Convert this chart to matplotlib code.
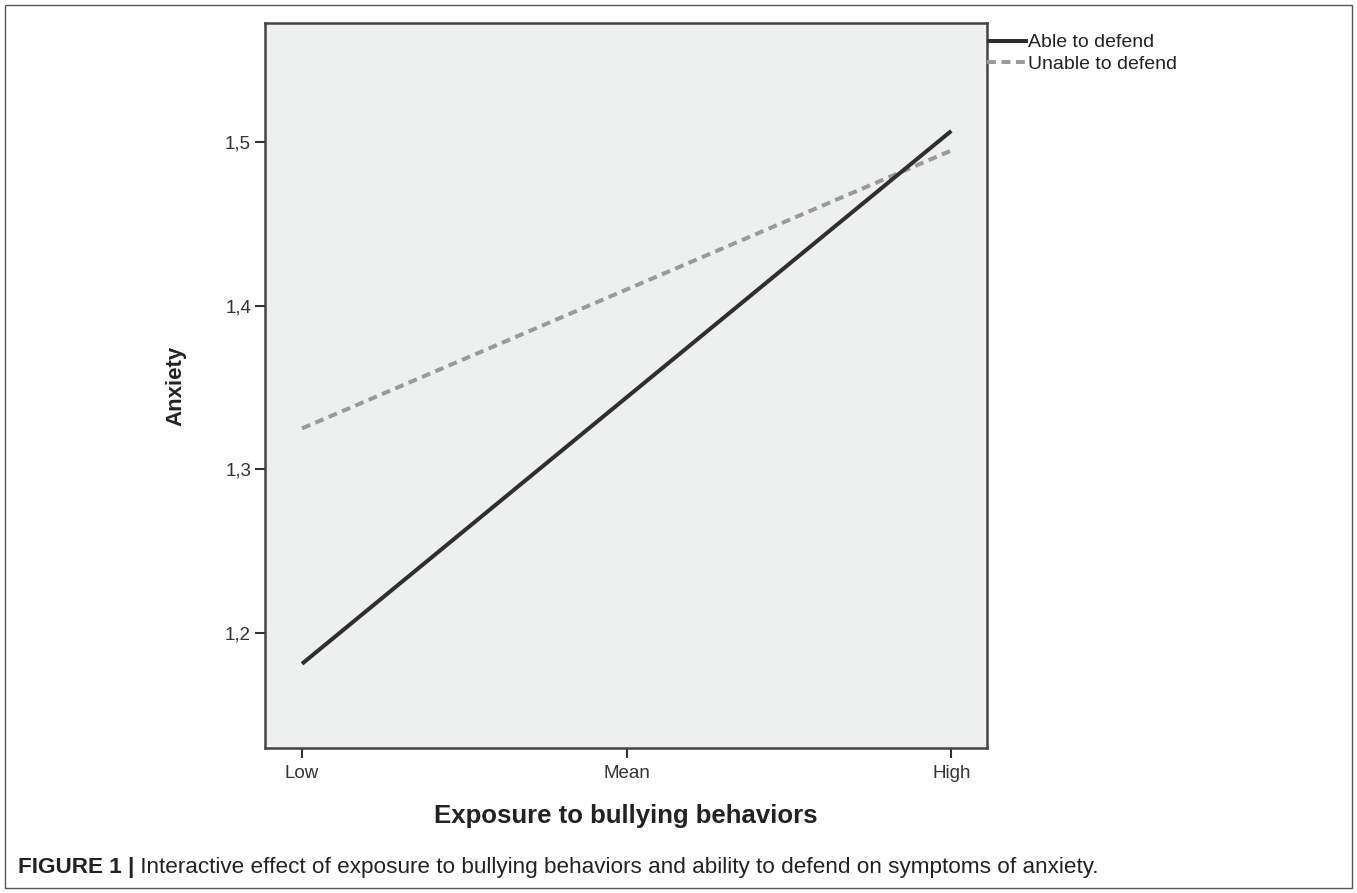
import matplotlib
matplotlib.use("Agg")
import matplotlib.pyplot as plt
from matplotlib.patches import Rectangle
from matplotlib.offsetbox import TextArea, HPacker, AnchoredOffsetbox

categories = ["Low", "Mean", "High"]
able = [1.181, 1.344, 1.507]
unable = [1.325, 1.410, 1.495]
series_names = ["Able to defend", "Unable to defend"]
y_ticks = [1.2, 1.3, 1.4, 1.5]
y_tick_labels = ["1,2", "1,3", "1,4", "1,5"]

plt.rcParams['font.family'] = ['Liberation Sans', 'DejaVu Sans']

W, H = 1357, 893
fig = plt.figure(figsize=(W / 100, H / 100), dpi=100)
ax = fig.add_axes([265 / W, 1 - 748 / H, (987 - 265) / W, (748 - 23) / H])
ax.set_facecolor('#eef0ef')

x = list(range(len(categories)))
ax.plot(x, able, color='#2f2f2f', lw=2.9, solid_capstyle='butt', label=series_names[0], zorder=3)
ax.plot(x, unable, color='#9a9a9a', lw=2.9, linestyle=(0, (2.2, 1.4)), label=series_names[1], zorder=2)

ax.set_xlim(-0.114, 2.11)
ax.set_ylim(1.1295, 1.573)
ax.set_xticks(x)
ax.set_xticklabels(categories)
ax.set_yticks(y_ticks)
ax.set_yticklabels(y_tick_labels)
ax.tick_params(axis='both', direction='out', length=7, width=1.5, color='#333333',
               labelsize=13.5, labelcolor='#333333', pad=3)
ax.tick_params(axis='x', pad=5)
for s in ax.spines.values():
    s.set_color('#444444')
    s.set_linewidth(1.8)

ax.set_ylabel("Anxiety", fontsize=16, fontweight='bold', color='#222222', labelpad=28)
ax.set_xlabel("Exposure to bullying behaviors", fontsize=18.5, fontweight='bold', color='#222222', labelpad=16)

leg = ax.legend(loc='upper left', bbox_to_anchor=(1.0, 0.985), frameon=False, fontsize=14,
                handlelength=2.1, handletextpad=0.03, borderpad=0, borderaxespad=0, labelspacing=0.2)
for t in leg.get_texts():
    t.set_color('#222222')

# outer frame
fig.patches.append(Rectangle((5 / W, 5 / H), (1352 - 5) / W, (888 - 5) / H, transform=fig.transFigure,
                             fill=False, edgecolor='#555555', lw=1.0))

# caption
t1 = TextArea("FIGURE 1 |", textprops=dict(fontsize=16.2, fontweight='bold', color='#222222'))
t2 = TextArea(" Interactive effect of exposure to bullying behaviors and ability to defend on symptoms of anxiety.",
              textprops=dict(fontsize=16.2, color='#222222'))
box = HPacker(children=[t1, t2], align='baseline', pad=0, sep=0)
ab = AnchoredOffsetbox(loc='lower left', child=box, pad=0, frameon=False,
                       bbox_to_anchor=(18 / W, 1 - 878 / H), bbox_transform=fig.transFigure, borderpad=0)
fig.add_artist(ab)

fig.savefig("out.png", dpi=100)
